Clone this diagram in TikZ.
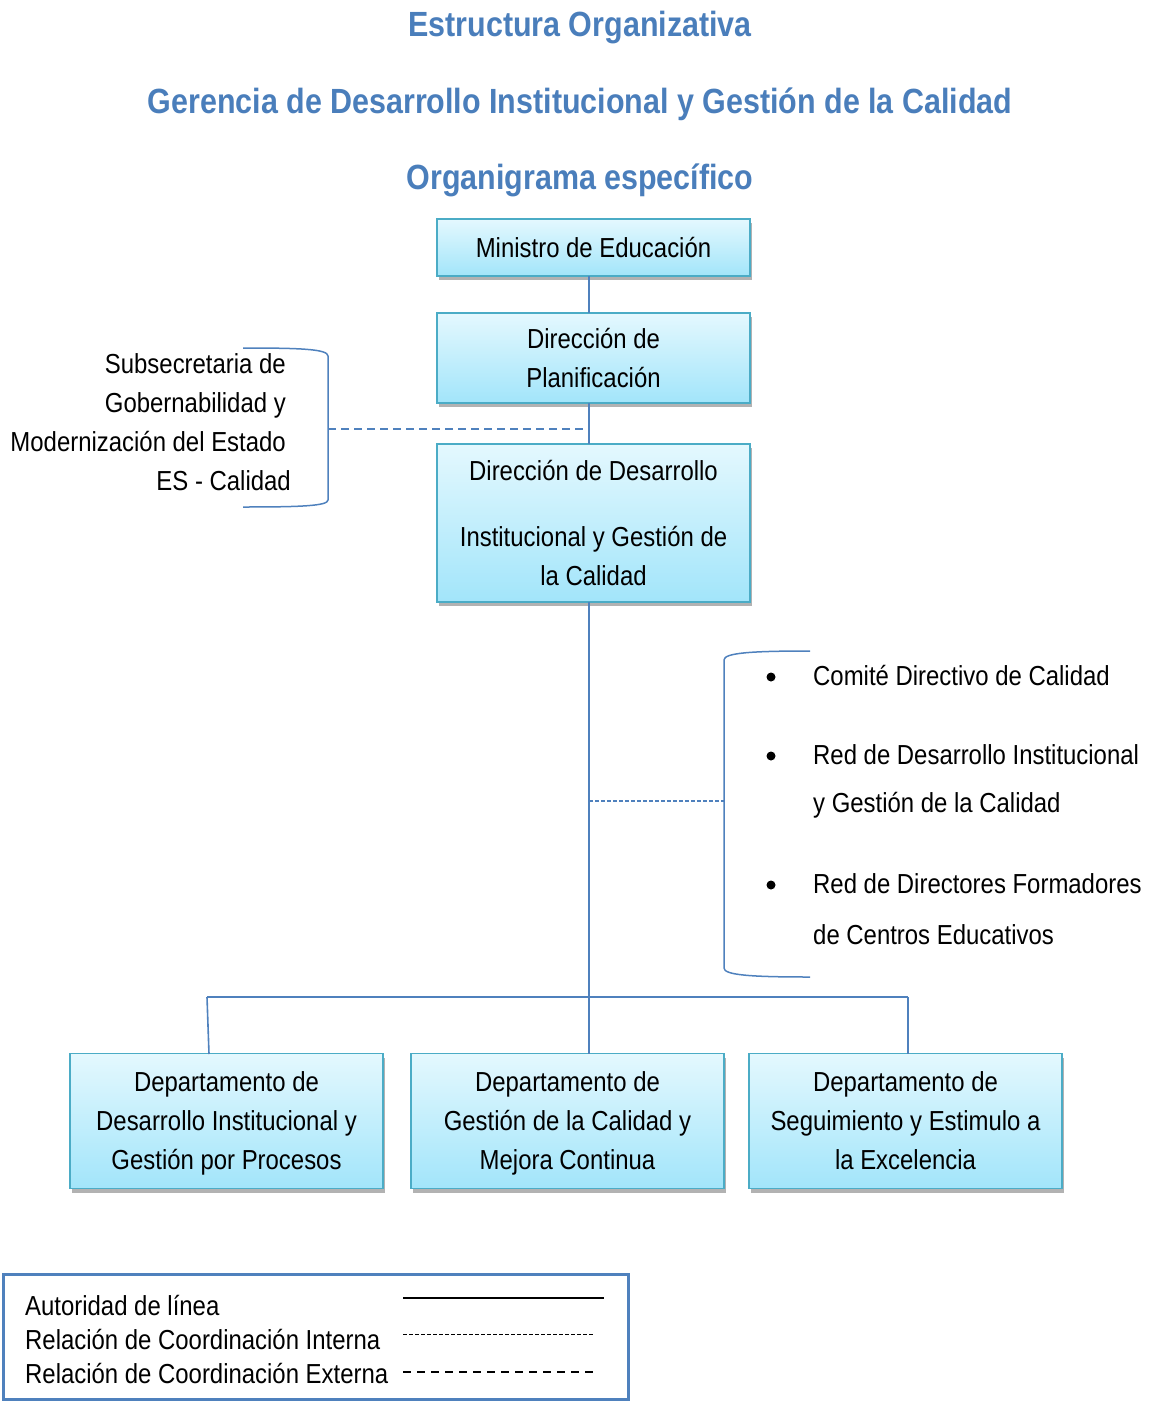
\documentclass[tikz,border=0pt]{standalone}
\usepackage{fontspec}
\setmainfont[FakeStretch=0.87]{Liberation Sans}
\usetikzlibrary{shadows}
\definecolor{ttl}{HTML}{4A7EBB}
\definecolor{ln}{HTML}{4F81BD}
\definecolor{bxborder}{HTML}{4BACC6}
\definecolor{bxtop}{HTML}{E4F8FE}
\definecolor{bxbot}{HTML}{A2E5FA}
\tikzset{
  orgbox/.style={draw=bxborder, line width=1.3pt, top color=bxtop, bottom color=bxbot,
    minimum width=313pt, inner sep=0pt, align=center, text depth=0pt,
    font=\fontsize{27.5}{39}\selectfont,
    drop shadow={shadow xshift=2pt, shadow yshift=-4pt, fill=black, opacity=0.3}},
  titletext/.style={text=ttl, font=\bfseries\fontsize{35}{40}\selectfont},
  plain/.style={font=\fontsize{27.5}{39}\selectfont, inner sep=0pt},
  conn/.style={draw=ln, line width=1.6pt},
  extdash/.style={draw=ln, line width=1.4pt, dash pattern=on 8pt off 5pt},
  intdash/.style={draw=ln, line width=1.3pt, dash pattern=on 4pt off 2pt},
  brk/.style={draw=ln, line width=1.5pt},
  bul/.style={circle, fill=black, inner sep=0pt, minimum size=9pt},
}
\begin{document}
\begin{tikzpicture}[x=1pt,y=-1pt]
\useasboundingbox (0,0) rectangle (1155,1402);
% titles
\node[titletext] (t1) at (580,28) {Estructura Organizativa};
\node[titletext] (t2) at (580,104) {Gerencia de Desarrollo Institucional y Gestión de la Calidad};
\node[titletext] (t3) at (580,180) {Organigrama específico};
% boxes
\node[orgbox, minimum height=57pt] (min) at (593.5,247.5) {Ministro de Educación};
\node[orgbox, minimum height=90pt] (plan) at (593.5,358) {Dirección de\\Planificación};
\node[orgbox, minimum height=158pt] (dir) at (593.5,523) {Dirección de Desarrollo\\[27pt]Institucional y Gestión de\\la Calidad};
\node[orgbox, minimum height=135pt] (d1) at (226.5,1121) {Departamento de\\Desarrollo Institucional y\\Gestión por Procesos};
\node[orgbox, minimum height=135pt] (d2) at (567.5,1121) {Departamento de\\Gestión de la Calidad y\\Mejora Continua};
\node[orgbox, minimum height=135pt] (d3) at (905.5,1121) {Departamento de\\Seguimiento y Estimulo a\\la Excelencia};
% coordinates
\coordinate (s1) at (589,276);
\coordinate (s2) at (589,313);
\coordinate (s3) at (589,403);
\coordinate (s4) at (589,444);
\coordinate (s5) at (589,602);
\coordinate (bus) at (589,997);
\coordinate (bl) at (207,997);
\coordinate (br) at (908,997);
\coordinate (d1t) at (209,1054);
\coordinate (d2t) at (589,1054);
\coordinate (d3t) at (908,1054);
\coordinate (sx) at (589,429);
\coordinate (rx) at (589,801);
% connectors
\draw[conn] (s1) -- (s2);
\draw[conn] (s3) -- (s4);
\draw[conn] (s5) -- (bus) -- (d2t);
\draw[conn] (bl) -- (br);
\draw[conn] (bl) -- (d1t);
\draw[conn] (br) -- (d3t);
% left bracket and text
\node[plain, align=right, anchor=east] (sub) at (286,422) {Subsecretaria de\\Gobernabilidad y\\Modernización del Estado\\ES - Calidad\hspace*{-5pt}};
\coordinate (lb) at (328,429);
\draw[brk] (243,348) .. controls (300,348) and (328,349) .. (328,356) -- (328,500) .. controls (328,506) and (300,507) .. (243,507);
\draw[extdash] (lb) -- (sx);
% right bracket and list
\coordinate (rb) at (724,801);
\draw[brk] (810,651) .. controls (750,651) and (724,653) .. (724,660) -- (724,968) .. controls (724,975) and (750,977) .. (810,977);
\draw[intdash] (rx) -- (rb);
\node[bul] (b1) at (771,677) {};
\node[bul] (b2) at (771,756) {};
\node[bul] (b3) at (771,885) {};
\node[plain, anchor=west] (l1) at (813,676) {Comité Directivo de Calidad};
\node[plain, anchor=west] (l2) at (813,755) {Red de Desarrollo Institucional};
\node[plain, anchor=west] (l2b) at (813,805) {y Gestión de la Calidad};
\node[plain, anchor=west] (l3) at (813,884) {Red de Directores Formadores};
\node[plain, anchor=west] (l3b) at (813,935) {de Centros Educativos};
% legend
\node[draw=ln, line width=3pt, minimum width=625pt, minimum height=125pt, inner sep=0pt] (leg) at (315.5,1337) {};
\node[plain, anchor=west] (g1) at (25,1305) {Autoridad de línea};
\node[plain, anchor=west] (g2) at (25,1339) {Relación de Coordinación Interna};
\node[plain, anchor=west] (g3) at (25,1373) {Relación de Coordinación Externa};
\coordinate (g1a) at (403,1298); \coordinate (g1b) at (604,1298);
\coordinate (g2a) at (403,1334); \coordinate (g2b) at (593,1334);
\coordinate (g3a) at (403,1372); \coordinate (g3b) at (593,1372);
\draw[line width=1.3pt] (g1a) -- (g1b);
\draw[line width=1pt, dash pattern=on 4pt off 2pt] (g2a) -- (g2b);
\draw[line width=1.2pt, dash pattern=on 8pt off 6pt] (g3a) -- (g3b);
\end{tikzpicture}
\end{document}
